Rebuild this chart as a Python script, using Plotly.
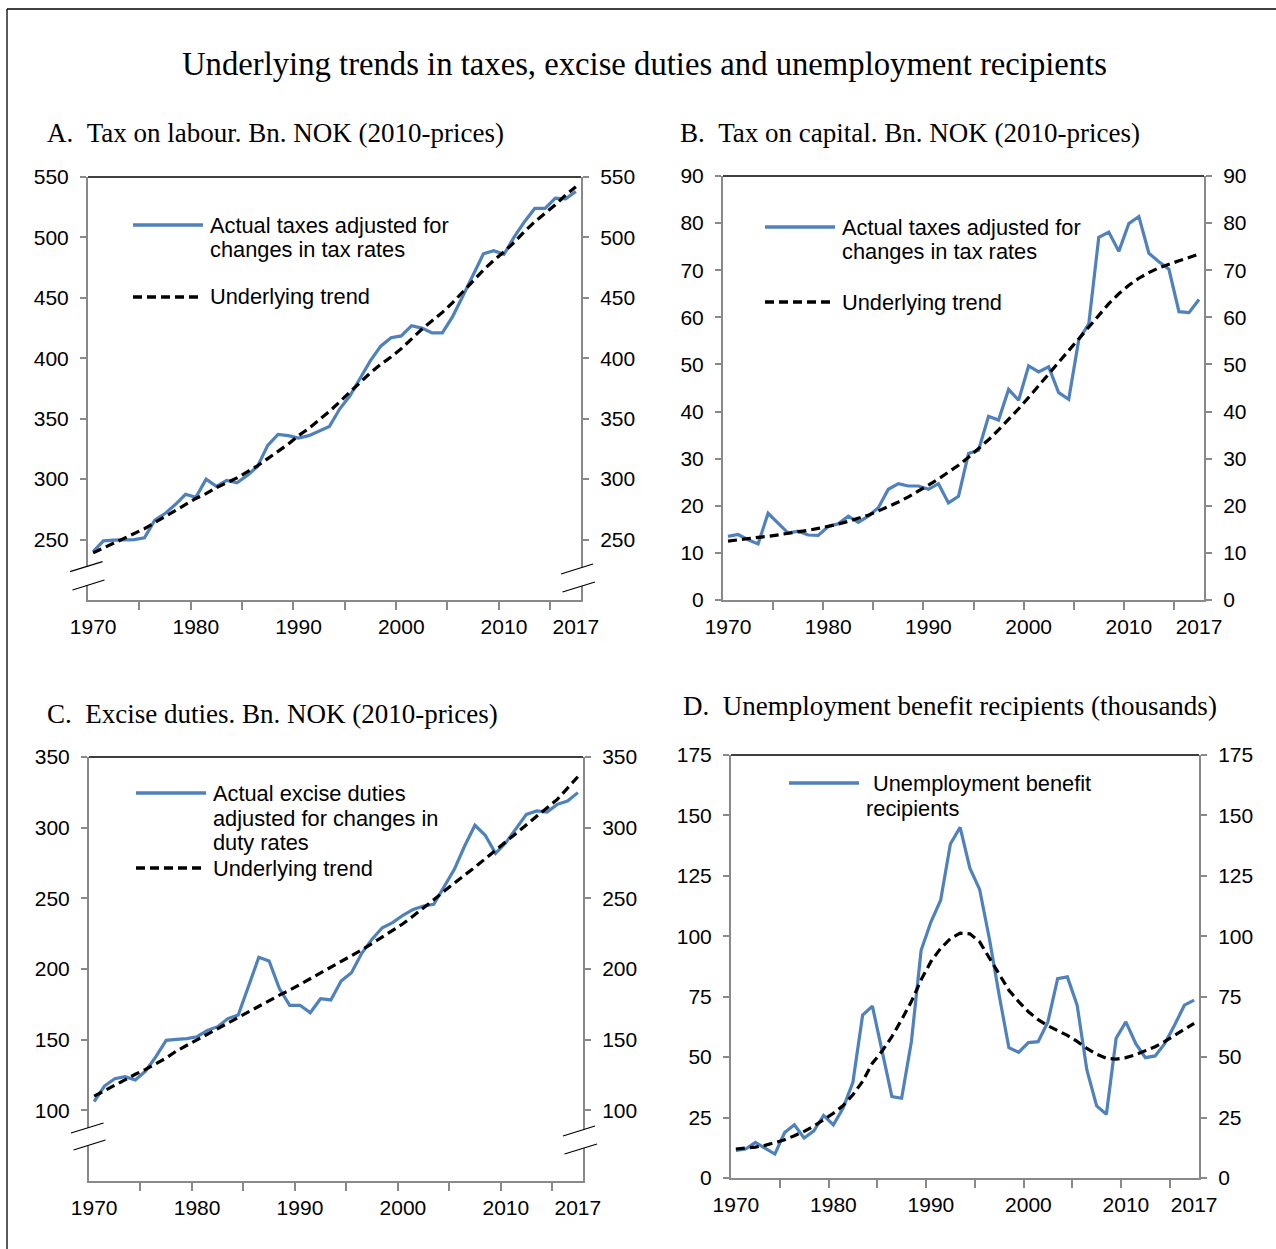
import plotly.graph_objects as go

W, H = 1276, 1249

years = list(range(1970, 2018))

# A. Tax on labour, bn NOK (2010 prices)
labour_actual = [240, 249, 249.5, 249.5, 250, 251.4, 266, 271.5, 279, 287.5,
                 285, 300, 294, 299, 297, 303, 310.5, 328, 337, 336,
                 334, 336, 340, 343.5, 358, 369, 383.5, 398, 410, 417,
                 418.5, 427, 425, 421, 421, 434.5, 451.5, 469.5, 486.5, 489,
                 486, 500.5, 513, 524, 524, 532.5, 532, 538]
labour_trend = [239, 243, 247, 251, 255, 259, 264, 269, 274, 279,
                284, 288, 293, 297, 301, 306, 311, 317, 323, 329,
                336, 342, 349, 356, 364, 372, 380, 388, 395, 401,
                408, 416, 424, 431, 438, 446, 455, 464, 473, 481,
                488, 496, 505, 513, 520, 527, 535, 542]

# B. Tax on capital, bn NOK (2010 prices)
capital_actual = [13.5, 13.9, 12.8, 11.9, 18.4, 16.3, 14.2, 14.6, 13.8, 13.7,
                  15.6, 16.2, 17.8, 16.5, 17.8, 19.6, 23.5, 24.7, 24.2, 24.2,
                  23.5, 24.7, 20.6, 22.0, 31.1, 31.8, 39.0, 38.2, 44.7, 42.4,
                  49.7, 48.4, 49.5, 44.0, 42.6, 55.2, 58.6, 77.0, 78.1, 74.0,
                  79.9, 81.4, 73.6, 71.8, 70.2, 61.2, 61.0, 63.8]
capital_trend = [12.5, 12.8, 13.0, 13.3, 13.5, 13.8, 14.1, 14.4, 14.8, 15.2,
                 15.6, 16.1, 16.7, 17.3, 18.0, 18.9, 19.8, 20.8, 21.9, 23.1,
                 24.4, 25.7, 27.1, 28.6, 30.3, 32.1, 34.0, 36.1, 38.3, 40.6,
                 43.0, 45.5, 48.0, 50.5, 53.0, 55.5, 58.0, 60.5, 62.9, 65.0,
                 66.8, 68.3, 69.5, 70.5, 71.3, 72.0, 72.7, 73.4]

# C. Excise duties, bn NOK (2010 prices)
excise_actual = [106.1, 117.2, 122.4, 123.8, 121.5, 127.8, 138, 149.5, 150.2, 150.7,
                 152.1, 156.6, 159.2, 164.9, 167.5, 188.4, 208.3, 205.7, 186.1, 174.3,
                 174.3, 169.1, 179, 178.1, 191.5, 197.4, 211.1, 221.1, 229.2, 232.8,
                 238, 242.2, 244.6, 245.8, 258.7, 270.5, 287, 301.7, 294.6, 281.8,
                 289.4, 299.3, 309.4, 311.8, 311.1, 316.5, 318.9, 324.8]
excise_trend = [110, 114, 118, 122, 125.5, 129, 133, 137, 142, 146,
                150, 154, 158, 162, 166, 170, 174, 178, 181.5, 185,
                189, 193, 197, 201, 205, 209, 213.5, 218, 222.5, 227,
                232, 237.5, 243, 249, 255, 261, 266.5, 272, 278, 284,
                290, 296, 302, 308, 314, 320, 328, 336]

# D. Unemployment benefit recipients (thousands)
unemp_actual = [11.4, 12.0, 14.7, 12.4, 9.9, 18.8, 22.0, 16.5, 19.5, 25.9,
                22.0, 28.9, 39.6, 67.4, 71.1, 52.5, 33.7, 33.0, 56.4, 94.2,
                105.9, 114.9, 138.2, 145.1, 128.2, 119.4, 99.0, 75.7, 53.9, 52.0,
                56.0, 56.4, 64.6, 82.5, 83.2, 71.5, 44.7, 29.8, 26.4, 57.8,
                64.6, 55.7, 49.8, 50.5, 55.7, 63.3, 71.5, 73.6]
unemp_trend = [12.0, 12.3, 12.8, 13.5, 14.5, 15.8, 17.5, 19.3, 21.5, 24.2,
               26.8, 30.0, 34.4, 40.0, 47.5, 52.5, 58.5, 65.5, 73.0, 82.0,
               89.5, 95.0, 99.0, 101.3, 101.0, 97.7, 91.0, 84.0, 77.7, 73.0,
               68.8, 65.5, 63.0, 61.0, 59.0, 56.5, 53.6, 51.2, 49.5, 49.2,
               49.8, 51.0, 52.5, 54.3, 56.5, 59.0, 61.5, 64.0]

year_labels = [1970, 1980, 1990, 2000, 2010, 2017]
boundary_ticks = [1974.5, 1979.5, 1984.5, 1989.5, 1994.5, 1999.5, 2004.5, 2009.5, 2014.5]

BLUE = "#4F81BD"
AXIS_GREY = "#898989"
SANS = "Liberation Sans, Arial, sans-serif"
SERIF = "Liberation Serif, Times New Roman, serif"
TICK_SIZE = 21
LEGEND_SIZE = 21.8
PANEL_TITLE_SIZE = 27
GAP = "\u00a0\u00a0"


def fx(x):
    return x / W


def fy(y):
    return 1 - y / H


panels = [
    dict(n=1, px=(88, 581), py=(600, 177), rng=(200, 550),
         ticks=[250, 300, 350, 400, 450, 500, 550],
         actual=labour_actual, trend=labour_trend),
    dict(n=2, px=(723, 1204), py=(600, 176), rng=(0, 90),
         ticks=[0, 10, 20, 30, 40, 50, 60, 70, 80, 90],
         actual=capital_actual, trend=capital_trend),
    dict(n=3, px=(89, 583), py=(1181, 757), rng=(50, 350),
         ticks=[100, 150, 200, 250, 300, 350],
         actual=excise_actual, trend=excise_trend),
    dict(n=4, px=(731, 1199), py=(1178, 755), rng=(0, 175),
         ticks=[0, 25, 50, 75, 100, 125, 150, 175],
         actual=unemp_actual, trend=unemp_trend),
]

fig = go.Figure()
shapes = []
annotations = []
layout = {}

for p in panels:
    n = p["n"]
    xs = "" if n == 1 else str(n)
    xref, yref = "x" + xs, "y" + xs
    right_ref = "y" + str(n + 4)
    xdom = [fx(p["px"][0]), fx(p["px"][1])]
    ydom = [fy(p["py"][0]), fy(p["py"][1])]

    fig.add_trace(go.Scatter(x=years, y=p["actual"], mode="lines",
                             line=dict(color=BLUE, width=3.2),
                             xaxis=xref, yaxis=yref, showlegend=False,
                             hoverinfo="x+y"))
    fig.add_trace(go.Scatter(x=years, y=p["trend"], mode="lines",
                             line=dict(color="black", width=3.2, dash="9px,5px"),
                             xaxis=xref, yaxis=yref, showlegend=False,
                             hoverinfo="x+y"))
    # the secondary (right-hand) value axis carries the same scale
    fig.add_trace(go.Scatter(x=years, y=p["trend"], mode="lines",
                             line=dict(width=0), opacity=0,
                             xaxis=xref, yaxis=right_ref, showlegend=False,
                             hoverinfo="skip"))

    layout["xaxis" + xs] = dict(
        domain=xdom, anchor=yref, range=[1969.5, 2017.5],
        tickmode="array", tickvals=year_labels, ticktext=[str(v) for v in year_labels],
        ticks="outside", ticklen=7, tickcolor="rgba(0,0,0,0)",
        ticklabelstandoff=0,
        minor=dict(tickmode="array", tickvals=boundary_ticks, ticks="outside",
                   ticklen=8, tickwidth=2, tickcolor=AXIS_GREY),
        showline=True, linecolor=AXIS_GREY, linewidth=2,
        showgrid=False, zeroline=False, automargin=False,
        tickfont=dict(family=SANS, size=TICK_SIZE, color="black"), fixedrange=True,
    )
    yaxis_common = dict(
        domain=ydom, range=list(p["rng"]), tickmode="array", tickvals=p["ticks"],
        ticks="outside", ticklen=6, tickwidth=2, tickcolor=AXIS_GREY,
        ticklabelstandoff=7,
        showline=True, linecolor=AXIS_GREY, linewidth=2,
        showgrid=False, zeroline=False, automargin=False,
        tickfont=dict(family=SANS, size=TICK_SIZE, color="black"), fixedrange=True,
    )
    layout["yaxis" + xs] = dict(anchor=xref, side="left", **yaxis_common)
    layout["yaxis" + str(n + 4)] = dict(anchor=xref, overlaying=yref, side="right",
                                        **yaxis_common)

    # black top border of the plot area
    shapes.append(dict(type="line", xref="paper", yref="paper",
                       x0=xdom[0], x1=xdom[1], y0=ydom[1], y1=ydom[1],
                       line=dict(color="black", width=1.5), layer="above"))

fig.update_layout(**layout)


def break_mark(ax_x, y_upper, y_lower, upper_dx, lower_dx):
    """Two slanted strokes with a white gap that cut an axis line."""
    (ua, ub), (la, lb) = upper_dx, lower_dx
    path = "M {} {} L {} {} L {} {} L {} {} Z".format(
        fx(ax_x + ua + 2), fy(y_upper + 5 - 0.6),
        fx(ax_x + ub - 2), fy(y_upper - 5 + 0.6),
        fx(ax_x + lb - 2), fy(y_lower - 5 + 0.6),
        fx(ax_x + la + 2), fy(y_lower + 5 - 0.6))
    shapes.append(dict(type="path", xref="paper", yref="paper", path=path,
                       fillcolor="white", line=dict(width=0), layer="above"))
    for yc, (a, b) in ((y_upper, upper_dx), (y_lower, lower_dx)):
        shapes.append(dict(type="line", xref="paper", yref="paper",
                           x0=fx(ax_x + a), y0=fy(yc + 5),
                           x1=fx(ax_x + b), y1=fy(yc - 5),
                           line=dict(color="black", width=1.3), layer="above"))


break_mark(88, 566.7, 585, (-18, 14.5), (-15.5, 16.5))
break_mark(581, 569, 587, (-20, 12), (-18.5, 14))
break_mark(89, 1128, 1145, (-18, 14.5), (-15.5, 16.5))
break_mark(583, 1131, 1149, (-20, 12), (-18.5, 14))

# outer frame (left and top edges)
shapes.append(dict(type="line", xref="paper", yref="paper",
                   x0=fx(7), x1=1, y0=fy(9), y1=fy(9),
                   line=dict(color="black", width=1.3)))
shapes.append(dict(type="line", xref="paper", yref="paper",
                   x0=fx(7), x1=fx(7), y0=fy(9), y1=0,
                   line=dict(color="black", width=1.3)))


def text(x, y, s, size=LEGEND_SIZE, family=SANS, anchor="left"):
    annotations.append(dict(x=fx(x), y=fy(y), xref="paper", yref="paper",
                            text=s, showarrow=False, xanchor=anchor, yanchor="middle",
                            font=dict(family=family, size=size, color="black")))


def legend_sample(x0, x1, y, dashed):
    shapes.append(dict(type="line", xref="paper", yref="paper",
                       x0=fx(x0), x1=fx(x1), y0=fy(y), y1=fy(y),
                       line=dict(color="black" if dashed else BLUE, width=3.5,
                                 dash="9px,5px" if dashed else "solid")))


# titles
text(645, 64, "Underlying trends in taxes, excise duties and unemployment recipients",
     size=32.7, family=SERIF, anchor="center")
text(45, 133, "A." + GAP + "Tax on labour. Bn. NOK (2010-prices)",
     size=PANEL_TITLE_SIZE, family=SERIF)
text(678, 133, "B." + GAP + "Tax on capital. Bn. NOK (2010-prices)",
     size=PANEL_TITLE_SIZE, family=SERIF)
text(45, 714, "C." + GAP + "Excise duties. Bn. NOK (2010-prices)",
     size=PANEL_TITLE_SIZE, family=SERIF)
text(681, 706, "D." + GAP + "Unemployment benefit recipients (thousands)",
     size=PANEL_TITLE_SIZE, family=SERIF)

# legends
legend_sample(133, 203, 225, False)
text(208, 225, "Actual taxes adjusted for")
text(208, 250, "changes in tax rates")
legend_sample(133, 203, 297, True)
text(208, 297, "Underlying trend")

legend_sample(765, 835, 227, False)
text(840, 227, "Actual taxes adjusted for")
text(840, 251, "changes in tax rates")
legend_sample(765, 835, 302, True)
text(840, 302, "Underlying trend")

legend_sample(136, 206, 793, False)
text(211, 793, "Actual excise duties")
text(211, 818, "adjusted for changes in")
text(211, 842, "duty rates")
legend_sample(136, 206, 868, True)
text(211, 868, "Underlying trend")

legend_sample(789, 859, 783, False)
text(871, 783, "Unemployment benefit")
text(864, 808, "recipients")

fig.update_layout(
    width=W, height=H,
    margin=dict(l=0, r=0, t=0, b=0, pad=0, autoexpand=False),
    paper_bgcolor="white", plot_bgcolor="white",
    shapes=shapes, annotations=annotations, showlegend=False,
)

fig.write_html("out.html", config={"displayModeBar": False})
